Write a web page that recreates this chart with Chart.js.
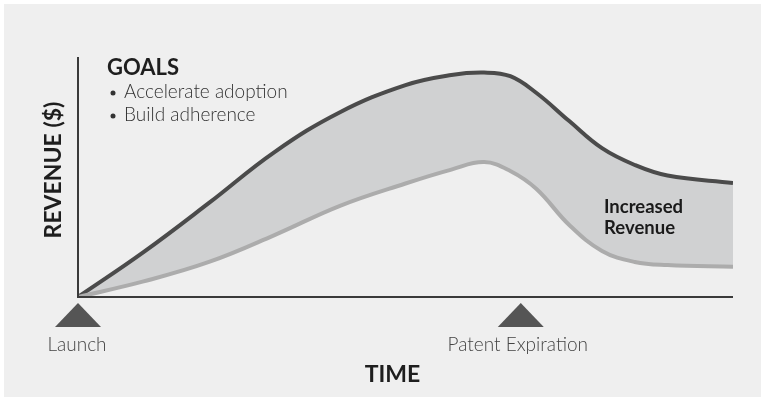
<!DOCTYPE html>
<html lang="en">
<head>
    <meta charset="UTF-8">
    <title>Revenue over Time</title>
    <script src="https://cdn.jsdelivr.net/npm/chart.js"></script>
    <style>
        html, body { margin: 0; padding: 0; background: #fff; }
        #wrap { position: absolute; left: 4px; top: 4px; width: 757px; height: 393px; background: #efefef; }
    </style>
</head>
<body>
    <div id="wrap"><canvas id="revChart" width="757" height="393"></canvas></div>

    <script>
        // time axis (0 = launch, 100 = end of view)
        const timeSteps = [0, 10, 20, 30, 40, 50, 57, 62, 66, 70, 75, 80, 85, 90, 100];
        const upperRevenue = [0, 18.7, 39.2, 60.4, 77, 88.3, 92.5, 93.5, 92, 85, 73.3, 62, 55, 50.6, 47.5];
        const lowerRevenue = [0, 6.5, 14.6, 25.8, 38, 47.3, 53.1, 56.2, 52.5, 45, 30, 19.2, 14.6, 13.3, 12.6];

        const eventLabels = ['Launch', 'Patent Expiration'];
        const eventTimes = [0, 67.6];

        const goalsTitle = 'GOALS';
        const goalsItems = ['Accelerate adoption', 'Build adherence'];

        const font = 'Lato, "Open Sans", sans-serif';

        const decor = {
            id: 'decor',
            afterDraw(chart) {
                const ctx = chart.ctx;
                const a = chart.chartArea;
                const xs = chart.scales.x;
                ctx.save();

                // axis lines
                ctx.strokeStyle = '#3a3a3a';
                ctx.lineWidth = 2;
                ctx.beginPath();
                ctx.moveTo(a.left, a.top);
                ctx.lineTo(a.left, a.bottom);
                ctx.lineTo(a.right, a.bottom);
                ctx.stroke();

                // event triangles + labels
                eventTimes.forEach((t, i) => {
                    const x = xs.getPixelForValue(t);
                    ctx.fillStyle = '#555';
                    ctx.beginPath();
                    ctx.moveTo(x, a.bottom + 6);
                    ctx.lineTo(x + 23, a.bottom + 30);
                    ctx.lineTo(x - 23, a.bottom + 30);
                    ctx.closePath();
                    ctx.fill();

                    ctx.fillStyle = '#444';
                    ctx.font = '300 19px ' + font;
                    ctx.textAlign = 'center';
                    ctx.textBaseline = 'middle';
                    ctx.fillText(eventLabels[i], x - (i ? 3 : 1), a.bottom + 48);
                });

                // axis titles
                ctx.fillStyle = '#1e1e1e';
                ctx.font = 'bold 23px ' + font;
                ctx.textAlign = 'center';
                ctx.textBaseline = 'middle';
                ctx.fillText('TIME', (a.left + a.right) / 2 - 13, a.bottom + 78);

                ctx.save();
                ctx.translate(a.left - 24, (a.top + a.bottom) / 2 - 7);
                ctx.rotate(-Math.PI / 2);
                ctx.fillText('REVENUE ($)', 0, 0);
                ctx.restore();

                // goals box
                ctx.textAlign = 'left';
                ctx.font = 'bold 22px ' + font;
                ctx.fillText(goalsTitle, a.left + 29, a.top + 11);
                ctx.font = '300 19px ' + font;
                ctx.fillStyle = '#333';
                goalsItems.forEach((g, i) => {
                    const y = a.top + 35 + i * 23;
                    ctx.beginPath();
                    ctx.arc(a.left + 35, y + 1, 2.5, 0, Math.PI * 2);
                    ctx.fill();
                    ctx.fillText(g, a.left + 46, y);
                });

                // band label
                ctx.fillStyle = '#1a1a1a';
                ctx.font = 'bold 18.5px ' + font;
                ctx.fillText('Increased', a.left + 526, a.top + 150);
                ctx.fillText('Revenue', a.left + 526, a.top + 171);

                ctx.restore();
            }
        };

        const toPoints = vals => vals.map((v, i) => ({ x: timeSteps[i], y: v }));

        new Chart(document.getElementById('revChart'), {
            type: 'line',
            data: {
                datasets: [{
                    label: 'With program',
                    data: toPoints(upperRevenue),
                    borderColor: '#4b4b4b',
                    borderWidth: 4,
                    backgroundColor: '#d0d1d2',
                    fill: '+1',
                    pointRadius: 0,
                    tension: 0.4,
                    order: 1
                }, {
                    label: 'Baseline',
                    data: toPoints(lowerRevenue),
                    borderColor: '#acacac',
                    borderWidth: 4,
                    fill: false,
                    pointRadius: 0,
                    tension: 0.4,
                    order: 0
                }]
            },
            options: {
                responsive: false,
                animation: false,
                layout: { padding: { left: 74, right: 28, top: 53, bottom: 100 } },
                plugins: { legend: { display: false }, tooltip: { enabled: false } },
                scales: {
                    x: { type: 'linear', min: 0, max: 100, display: false },
                    y: { min: 0, max: 100, display: false }
                }
            },
            plugins: [decor]
        });
    </script>
</body>
</html>
